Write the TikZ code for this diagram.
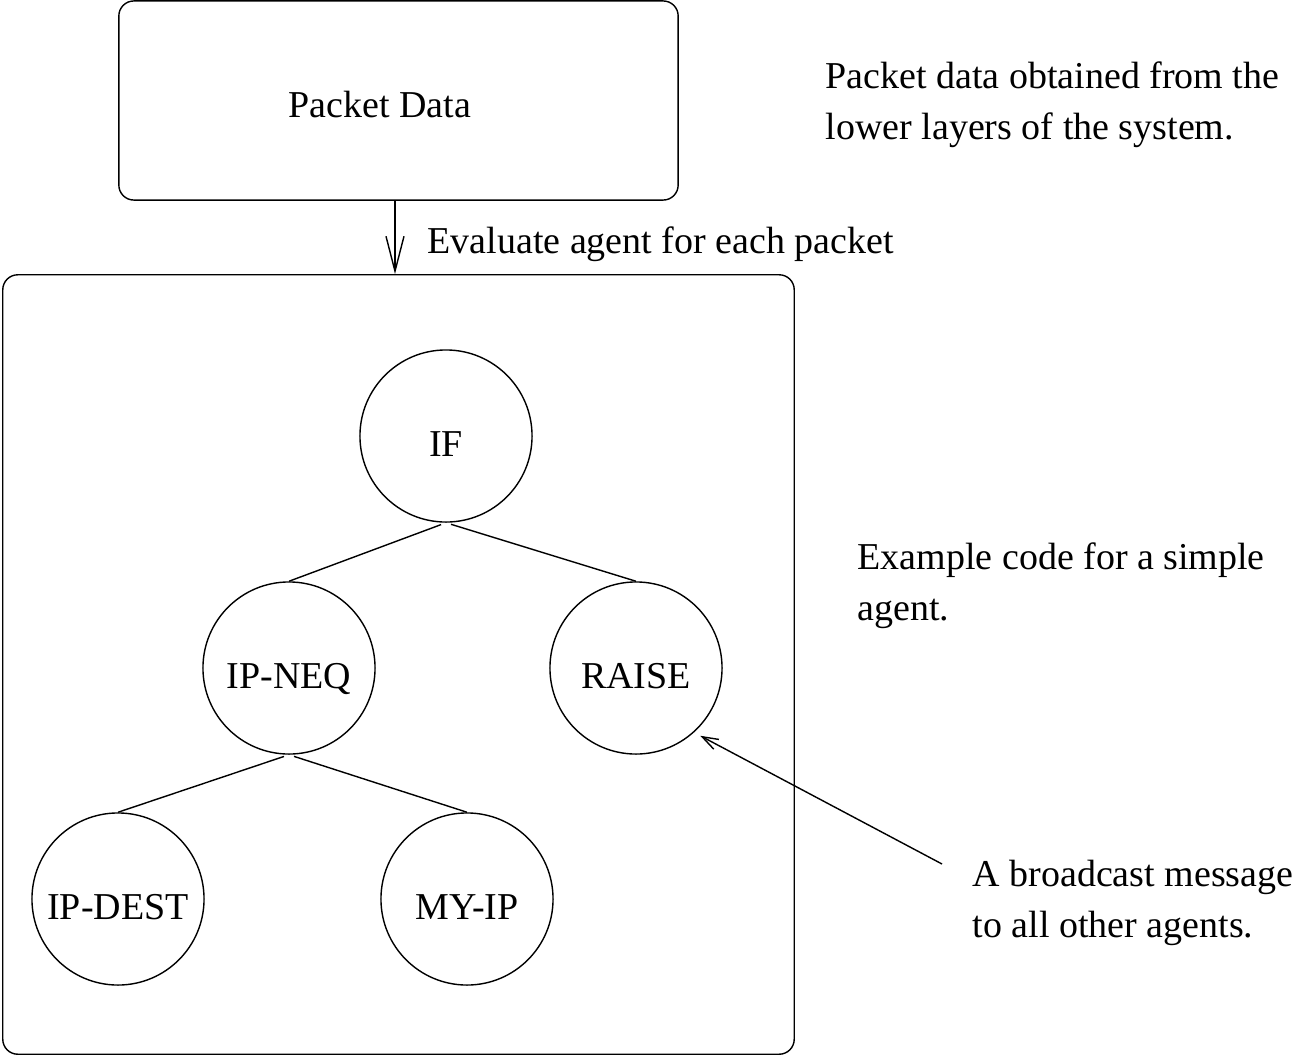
\documentclass[tikz,border=0pt]{standalone}
\usepackage{fontspec}
\setmainfont{Liberation Serif}
\usetikzlibrary{arrows.meta}

\tikzset{
  blob/.style={draw, circle, minimum size=1.72cm, inner sep=0pt,
    text height=0.4cm, text depth=0pt},
  frame/.style={draw, rectangle, rounded corners=0.15cm, inner sep=0pt},
  branch/.style={shorten <=1.5pt},
  note/.style={anchor=base west, align=left, inner sep=0pt},
}

\begin{document}
\begin{tikzpicture}[x=0.01cm, y=-0.01cm, font=\fontsize{10.8}{14.5}\selectfont]
\useasboundingbox (0,0) rectangle (1299,1057);
% boxes
\node[frame, minimum width=5.59cm, minimum height=1.99cm] (pkt) at (398.5,100.5) {};
\node (pkttext) at (380,105) {Packet Data};
\node[frame, minimum width=7.91cm, minimum height=7.79cm] (agent) at (398.5,664.5) {};
\draw[-{Straight Barb[length=3.5mm, width=1.8mm]}]
  ([xshift=-0.035cm]pkt.south) -- ([xshift=-0.035cm]pkt.south |- agent.north);
\node[note] (evaltext) at (427,253) {Evaluate agent for each packet};
% the tree
\node[blob] (if) at (446,436) {IF};
\node[blob] (neq) at (289,668) {IP-NEQ};
\node[blob] (raise) at (636,668) {RAISE};
\node[blob] (dest) at (118,899) {IP-DEST};
\node[blob] (myip) at (467,899) {MY-IP};
\draw[branch] (if.south) -- (neq.north);
\draw[branch] (if.south) -- (raise.north);
\draw[branch] (neq.south) -- (dest.north);
\draw[branch] (neq.south) -- (myip.north);
% notes on the right (base = last line)
\node[note] (pktnote) at (825,139) {Packet data obtained from the\\lower layers of the system.};
\node[note] (codenote) at (857,620) {Example code for a simple\\agent.};
\node[note] (msgnote) at (972,937) {A broadcast message\\to all other agents.};
\coordinate (msgtail) at (942,864);
\draw[-{Straight Barb[length=1.6mm, width=1.1mm]}, shorten >=2pt] (msgtail) -- (raise.-48);
\end{tikzpicture}
\end{document}
